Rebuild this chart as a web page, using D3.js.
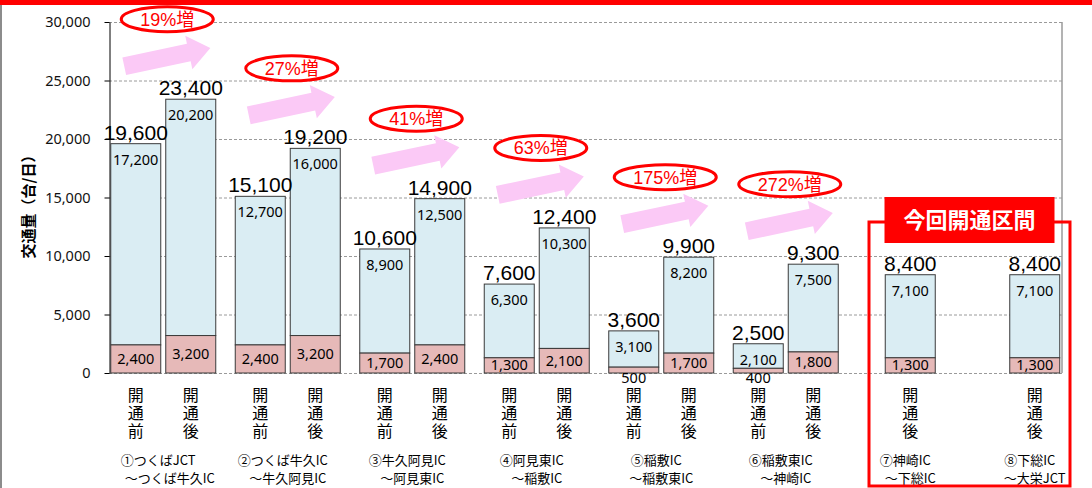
<!DOCTYPE html>
<html>
<head>
<meta charset="utf-8">
<script src="https://cdn.jsdelivr.net/npm/d3@7"></script>
<style>
body { margin: 0; background: #fff; }
svg { display: block; }
</style>
</head>
<body>
<svg id="chart" width="1092" height="488"></svg>
<script>
// data
var groupLine1 = ["①つくばJCT", "②つくば牛久IC", "③牛久阿見IC", "④阿見東IC", "⑤稲敷IC", "⑥稲敷東IC", "⑦神崎IC", "⑧下総IC"];
var groupLine2 = ["　～つくば牛久IC", "～牛久阿見IC", "～阿見東IC", "～稲敷IC", "～稲敷東IC", "～神崎IC", "～下総IC", "～大栄JCT"];
var phases = ["開通前", "開通後"];
var beforeLower = [2400, 2400, 1700, 1300, 500, 400, null, null];
var beforeUpper = [17200, 12700, 8900, 6300, 3100, 2100, null, null];
var afterLower = [3200, 3200, 2400, 2100, 1700, 1800, 1300, 1300];
var afterUpper = [20200, 16000, 12500, 10300, 8200, 7500, 7100, 7100];
var yTicks = [0, 5000, 10000, 15000, 20000, 25000, 30000];
var yTitle = "交通量（台/日）";
var sectionTitle = "今回開通区間";

var svg = d3.select("#chart");
var jp = "'Noto Sans CJK JP', 'Noto Sans', sans-serif";
var num = "'Noto Sans', 'DejaVu Sans', sans-serif";

var plotLeft = 109, plotRight = 1062, plotTop = 22, plotBottom = 373;

var x0 = d3.scaleBand().domain(d3.range(groupLine1.length)).range([101, 101 + 124.5 * 8]);
var bw = x0.bandwidth();
var x1 = d3.scaleBand().domain(phases).range([(bw - 105) / 2, (bw + 105) / 2]).paddingInner(5 / 55);
var y = d3.scaleLinear().domain([0, 30000]).range([plotBottom, plotTop]);

// frame bits
svg.append("rect").attr("x", 0).attr("y", 0).attr("width", 1092).attr("height", 5).attr("fill", "#ff0000");
svg.append("line").attr("x1", 1).attr("x2", 1).attr("y1", 5).attr("y2", 488)
  .attr("stroke", "#8c8c8c").attr("stroke-width", 2);

// gridlines
svg.append("g").selectAll("line").data(yTicks).enter()
  .append("line")
  .attr("x1", plotLeft).attr("x2", plotRight)
  .attr("y1", function(d) { return y(d) + 0.5; })
  .attr("y2", function(d) { return y(d) + 0.5; })
  .attr("stroke", "#9a9a9a").attr("stroke-dasharray", "3,2");

svg.append("line").attr("x1", plotRight).attr("x2", plotRight).attr("y1", plotTop).attr("y2", plotBottom)
  .attr("stroke", "#9a9a9a").attr("stroke-width", 1.5);

var yAxis = d3.axisLeft(y).tickValues(yTicks).tickSize(5).tickSizeOuter(0).tickPadding(14)
  .tickFormat(d3.format(","));
var ga = svg.append("g").attr("transform", "translate(" + (plotLeft + 0.5) + ",0)").call(yAxis);
ga.select(".domain").attr("stroke", "#000");
ga.selectAll(".tick line").attr("stroke", "#000");
ga.selectAll(".tick text").attr("font-family", num).attr("font-size", "14.5px").attr("fill", "#111");

svg.append("text")
  .attr("transform", "translate(34,203) rotate(-90)")
  .attr("text-anchor", "middle")
  .attr("font-family", jp).attr("font-size", "15px").attr("font-weight", "bold")
  .text(yTitle);

// bar list
var bars = [];
groupLine1.forEach(function(n, i) {
  var single = beforeLower[i] == null;
  if (!single) {
    bars.push({ g: i, phase: phases[0], lower: beforeLower[i], upper: beforeUpper[i],
      x: x0(i) + x1(phases[0]) });
  }
  bars.push({ g: i, phase: phases[1], lower: afterLower[i], upper: afterUpper[i],
    x: single ? x0(i) + bw / 2 - x1.bandwidth() / 2 : x0(i) + x1(phases[1]) });
});
var barW = x1.bandwidth();

var gb = svg.append("g");
gb.selectAll("rect.upper").data(bars).enter()
  .append("rect").attr("class", "upper")
  .attr("x", function(d) { return d.x; })
  .attr("width", barW)
  .attr("y", function(d) { return y(d.lower + d.upper); })
  .attr("height", function(d) { return y(d.lower) - y(d.lower + d.upper); })
  .attr("fill", "#daedf3").attr("stroke", "#3a3a3a").attr("stroke-width", 1);

gb.selectAll("rect.lower").data(bars).enter()
  .append("rect").attr("class", "lower")
  .attr("x", function(d) { return d.x; })
  .attr("width", barW)
  .attr("y", function(d) { return y(d.lower); })
  .attr("height", function(d) { return y(0) - y(d.lower); })
  .attr("fill", "#e6b9b8").attr("stroke", "#3a3a3a").attr("stroke-width", 1);

var fmt = d3.format(",");
gb.selectAll("text.total").data(bars).enter()
  .append("text").attr("class", "total")
  .attr("x", function(d) { return d.x + barW / 2; })
  .attr("y", function(d) { return y(d.lower + d.upper) - 4; })
  .attr("text-anchor", "middle")
  .attr("font-family", "'Liberation Sans', Arial, sans-serif").attr("font-size", "21px")
  .text(function(d) { return fmt(d.lower + d.upper); });

gb.selectAll("text.up").data(bars).enter()
  .append("text").attr("class", "up")
  .attr("x", function(d) { return d.x + barW / 2; })
  .attr("y", function(d) { return y(d.lower + d.upper) + 21; })
  .attr("text-anchor", "middle")
  .attr("font-family", num).attr("font-size", "14.5px")
  .text(function(d) { return fmt(d.upper); });

gb.selectAll("text.lo").data(bars).enter()
  .append("text").attr("class", "lo")
  .attr("x", function(d) { return d.x + barW / 2; })
  .attr("y", function(d) {
    var h = y(0) - y(d.lower);
    return h < 12 ? y(0) + 10 : (y(0) + y(d.lower)) / 2 + 5;
  })
  .attr("text-anchor", "middle")
  .attr("font-family", num).attr("font-size", "14.5px")
  .text(function(d) { return fmt(d.lower); });

// vertical category labels
var gx = svg.append("g");
gx.selectAll("text.phase").data(bars).enter()
  .append("text").attr("class", "phase")
  .attr("x", function(d) { return d.x + barW / 2; })
  .attr("y", 387)
  .attr("writing-mode", "vertical-rl")
  .style("writing-mode", "vertical-rl")
  .style("letter-spacing", "2px")
  .attr("font-family", jp).attr("font-size", "16px")
  .text(function(d) { return d.phase; });

// group labels
groupLine1.forEach(function(t, i) {
  var cx = x0(i) + bw / 2;
  gx.append("text").attr("x", cx - 5).attr("y", 465)
    .attr("text-anchor", "middle").attr("font-family", jp).attr("font-size", "13px").text(t);
  gx.append("text").attr("x", cx).attr("y", 483)
    .attr("text-anchor", "middle").attr("font-family", jp).attr("font-size", "13px").text(groupLine2[i]);
});

// increase annotations: arrow + ellipse
var ga2 = svg.append("g");
groupLine1.forEach(function(t, i) {
  if (beforeLower[i] == null) return;
  var bt = beforeLower[i] + beforeUpper[i];
  var at = afterLower[i] + afterUpper[i];
  var pct = Math.round((at / bt - 1) * 100) + "%増";
  var cx = x0(i) + bw / 2 + 4;
  var cy = y(at) - 80;

  var arrow = [[0, -9], [66, -9], [66, -17], [88, 0], [66, 17], [66, 9], [0, 9]];
  ga2.append("polygon")
    .attr("points", arrow.map(function(p) { return p.join(","); }).join(" "))
    .attr("transform", "translate(" + (cx - 43) + "," + (cy + 47) + ") rotate(-12)")
    .attr("fill", "#fbc9f6");

  var el = ga2.append("ellipse").attr("cx", cx).attr("cy", cy).attr("ry", 12.5)
    .attr("fill", "#fff").attr("stroke", "#ff0000").attr("stroke-width", 3);
  var tx = ga2.append("text").attr("x", cx).attr("y", cy + 6.5)
    .attr("text-anchor", "middle")
    .attr("font-family", "'Liberation Sans', 'Noto Sans CJK JP', sans-serif").attr("font-size", "18px")
    .attr("fill", "#ff0000").text(pct);
  el.attr("rx", tx.node().getComputedTextLength() / 2 + 19);
});

// new section box
var boxL = x0(6) + 21, boxR = x0(7) + bw - 27;
svg.append("rect").attr("x", boxL).attr("y", 222).attr("width", boxR - boxL).attr("height", 264)
  .attr("fill", "none").attr("stroke", "#ff0000").attr("stroke-width", 3);
var tcx = x0(7) - 3;
svg.append("rect").attr("x", tcx - 85).attr("y", 197).attr("width", 170).attr("height", 46)
  .attr("fill", "#ff0000");
svg.append("text").attr("x", tcx).attr("y", 228).attr("text-anchor", "middle")
  .attr("font-family", jp).attr("font-size", "22px").attr("font-weight", "bold")
  .attr("fill", "#fff").text(sectionTitle);
</script>
</body>
</html>
